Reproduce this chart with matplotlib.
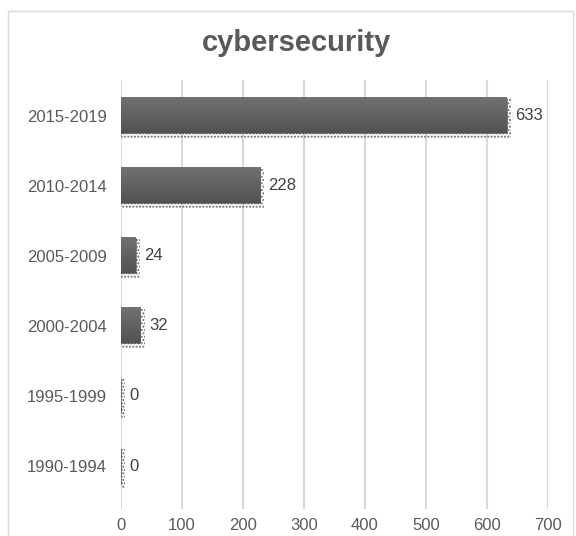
import numpy as np
import matplotlib.pyplot as plt
from matplotlib.patches import Rectangle

plt.rcParams['font.family'] = ['Liberation Sans', 'DejaVu Sans']

periods = ['1990-1994', '1995-1999', '2000-2004', '2005-2009', '2010-2014', '2015-2019']
counts = [0, 0, 32, 24, 228, 633]

fig = plt.figure(figsize=(5.76, 5.36), dpi=100)
ax = fig.add_axes([0.21, 0.0496, 0.741, 0.802])

ypos = list(range(len(periods)))
h = 0.5
# dotted shadow behind each bar
ax.barh([y - 0.04 for y in ypos], [c + 7 for c in counts], height=0.56, left=0,
        color='none', edgecolor='#6a6a6a', hatch='.....', linewidth=0, zorder=2)
bars = ax.barh(ypos, counts, height=h, color='#5e5e5e', edgecolor='#444444',
               linewidth=0.6, linestyle=':', zorder=3)

# vertical gradient fill, lighter at the top like the original
grad = np.linspace(0, 1, 64).reshape(-1, 1)
for y, c in zip(ypos, counts):
    if c > 0:
        ax.imshow(grad, cmap='Greys', vmin=-5.25, vmax=3.08, aspect='auto',
                  extent=(0, c, y - h / 2, y + h / 2), origin='upper',
                  interpolation='bicubic', zorder=3.5)

for y, c in zip(ypos, counts):
    ax.text(c + 14, y, str(c), va='center', ha='left', fontsize=12, color='#404040')

ax.set_xlim(0, 700)
ax.set_ylim(-0.62, 5.52)
ax.set_xticks(range(0, 701, 100))
ax.set_yticks(ypos)
ax.set_yticklabels(periods)
ax.grid(axis='x', color='#d9d9d9', linewidth=1.5, zorder=0)
ax.set_axisbelow(True)
for s in ax.spines.values():
    s.set_visible(False)
ax.tick_params(axis='both', length=0, labelsize=12, labelcolor='#595959')
ax.tick_params(axis='y', pad=10)
ax.tick_params(axis='x', pad=6)

fig.text(0.515, 0.92, 'cybersecurity', ha='center', va='center',
         fontsize=21, fontweight='bold', color='#595959')

fig.patches.append(Rectangle((0.014, -0.01), 0.98, 0.99, transform=fig.transFigure,
                             fill=False, edgecolor='#d9d9d9', linewidth=1))

plt.savefig('out.png', dpi=100)
